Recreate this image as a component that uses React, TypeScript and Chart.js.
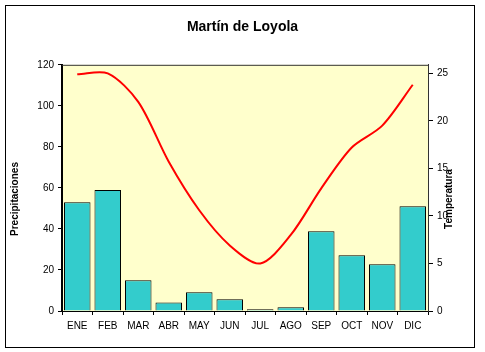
import React, { useEffect, useRef } from "react";
import { Chart, registerables } from "chart.js";

Chart.register(...registerables);

const months = ["ENE", "FEB", "MAR", "ABR", "MAY", "JUN", "JUL", "AGO", "SEP", "OCT", "NOV", "DIC"];
const precipitaciones = [53, 59, 15, 4.2, 9.1, 5.7, 0.8, 1.8, 38.9, 27.2, 22.8, 51];
const temperatura = [24.9, 25.0, 22.0, 15.7, 10.6, 6.9, 5.0, 8.0, 12.9, 17.2, 19.5, 23.8];
const tempTicks = [0, 5, 10, 15, 20, 25];
const titleText = "Martín de Loyola";
const leftTitle = "Precipitaciones";
const rightTitle = "Temperatura";

const FONT = "'Liberation Sans', Arial, sans-serif";

const decor = {
  id: "decor",
  beforeDraw(chart: any) {
    const { ctx, chartArea: a } = chart;
    ctx.save();
    ctx.fillStyle = "#FFFFCC";
    ctx.fillRect(a.left, a.top, a.right - a.left, a.bottom - a.top);
    ctx.restore();
  },
  afterDraw(chart: any) {
    const { ctx, chartArea: a } = chart;
    ctx.save();
    ctx.strokeStyle = "#333333";
    ctx.lineWidth = 1;
    ctx.beginPath();
    ctx.moveTo(a.left, a.top + 0.5);
    ctx.lineTo(a.right, a.top + 0.5);
    ctx.stroke();
    ctx.strokeStyle = "#000000";
    ctx.strokeRect(5.5, 5.5, 469, 342);
    ctx.fillStyle = "#000000";
    ctx.font = "bold 10px " + FONT;
    ctx.textAlign = "center";
    ctx.textBaseline = "middle";
    ctx.translate(15, 199);
    ctx.rotate(-Math.PI / 2);
    ctx.fillText(leftTitle, 0, 0);
    ctx.restore();
    ctx.save();
    ctx.fillStyle = "#000000";
    ctx.font = "bold 10px " + FONT;
    ctx.textAlign = "center";
    ctx.textBaseline = "middle";
    ctx.translate(449, 199);
    ctx.rotate(-Math.PI / 2);
    ctx.fillText(rightTitle, 0, 0);
    ctx.restore();
  },
};

export default function App() {
  const ref = useRef<HTMLCanvasElement>(null);
  useEffect(() => {
    if (!ref.current) return;
    const chart = new Chart(ref.current, {
      type: "bar",
      data: {
        labels: months,
        datasets: [
          {
            type: "line",
            label: "Temperatura",
            data: temperatura,
            borderColor: "#FF0000",
            borderWidth: 2,
            pointRadius: 0,
            tension: 0.3,
            fill: false,
            yAxisID: "y1",
            order: 0,
          } as any,
          {
            type: "bar",
            label: "Precipitaciones",
            data: precipitaciones,
            backgroundColor: "#33CCCC",
            borderColor: "#000000",
            borderWidth: 1,
            barPercentage: 0.87,
            categoryPercentage: 1,
            yAxisID: "y",
            order: 1,
          } as any,
        ],
      },
      options: {
        responsive: false,
        animation: false,
        devicePixelRatio: 1,
        layout: { padding: 0 },
        plugins: {
          legend: { display: false },
          tooltip: { enabled: false },
          title: {
            display: true,
            text: titleText,
            color: "#000000",
            font: { family: FONT, size: 14, weight: "bold" },
            padding: { top: 19, bottom: 29 },
          },
        },
        scales: {
          x: {
            grid: { display: true, drawOnChartArea: false, tickLength: 4, color: "#000000", offset: true },
            border: { display: true, color: "#000000", width: 1 },
            ticks: { color: "#000000", font: { family: FONT, size: 10 }, padding: 5, maxRotation: 0, autoSkip: false },
            afterFit: (s: any) => { s.height = 41; },
          },
          y: {
            position: "left",
            min: 0,
            max: 120,
            ticks: { stepSize: 20, color: "#000000", font: { family: FONT, size: 10 }, padding: 4 },
            grid: { display: true, drawOnChartArea: false, tickLength: 4, color: "#000000" },
            border: { display: true, color: "#000000", width: 2 },
            afterFit: (s: any) => { s.width = 62; },
          },
          y1: {
            position: "right",
            min: 0,
            max: 25.9,
            ticks: { color: "#000000", font: { family: FONT, size: 10 }, padding: 4 },
            grid: { display: true, drawOnChartArea: false, tickLength: 5, color: "#000000" },
            border: { display: true, color: "#333333", width: 1 },
            afterBuildTicks: (s: any) => { s.ticks = tempTicks.map((v) => ({ value: v })); },
            afterFit: (s: any) => { s.width = 57; },
          },
        },
      },
      plugins: [decor],
    });
    return () => chart.destroy();
  }, []);
  return (
    <div style={{ position: "absolute", left: 0, top: 0, width: 485, height: 352, background: "#ffffff" }}>
      <canvas ref={ref} width={485} height={352} />
    </div>
  );
}
